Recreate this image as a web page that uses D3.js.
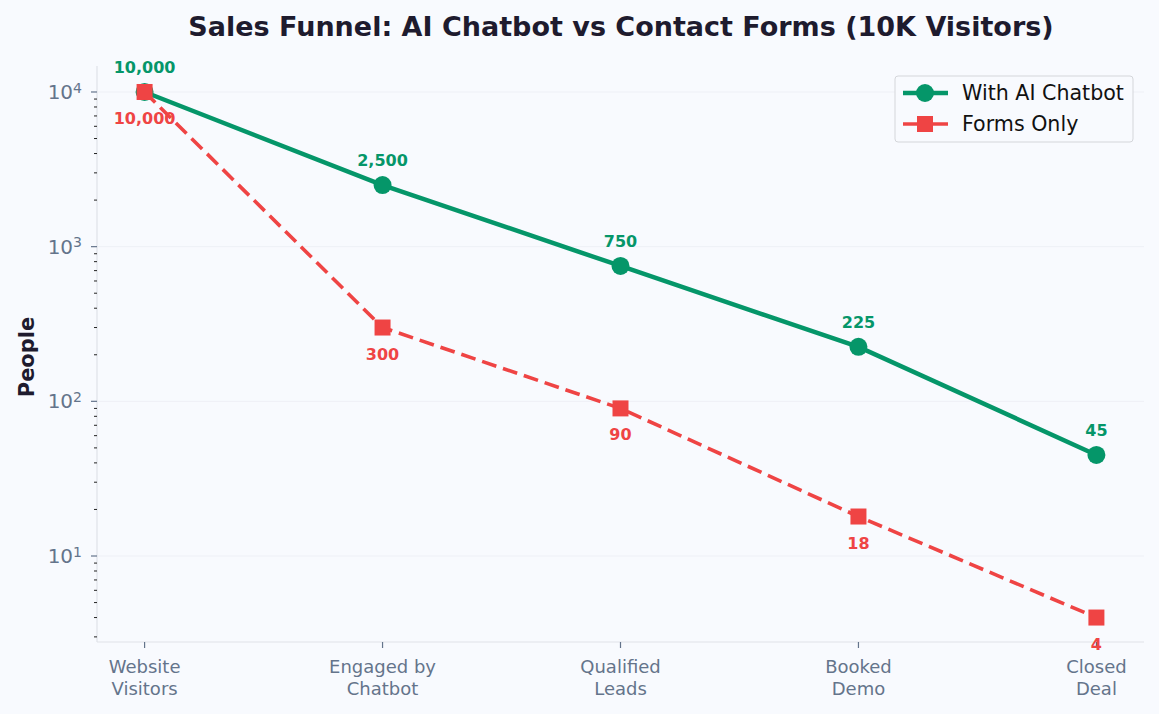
<!DOCTYPE html>
<html>
  <head>
    <meta charset="utf-8">
    <title>Sales funnel</title>
    <script src="https://cdn.jsdelivr.net/npm/d3@7"></script>
    <style>
      body { margin: 0; background: #f8fafe; font-family: "DejaVu Sans", sans-serif; }
      svg { display: block; }
    </style>
  </head>
  <body>
    <svg id="chart" width="1159" height="714"></svg>

    <script>
      // data
      stages = [["Website", "Visitors"], ["Engaged by", "Chatbot"], ["Qualified", "Leads"], ["Booked", "Demo"], ["Closed", "Deal"]];
      chatbot = [10000, 2500, 750, 225, 45];
      forms = [10000, 300, 90, 18, 4];
      seriesNames = ["With AI Chatbot", "Forms Only"];
      majorTicks = [10, 100, 1000, 10000];

      green = "#059669";
      red = "#ef4444";
      slate = "#64748b";

      svg = d3.select("#chart");

      x = d3.scaleLinear()
        .domain([-0.2, stages.length - 1 + 0.2])
        .range([97, 1144]);

      y = d3.scaleLog()
        .domain([Math.pow(10, 0.444), Math.pow(10, 4.168)])
        .range([642, 66]);

      // grid
      svg.append("g")
        .selectAll("line")
          .data(majorTicks)
        .enter().append("line")
          .attr("x1", 97)
          .attr("x2", 1144)
          .attr("y1", function(d) { return y(d); })
          .attr("y2", function(d) { return y(d); })
          .style("stroke", "#eef0f6")
          .style("stroke-width", 1);

      // spines
      svg.append("line")
        .attr("x1", 97).attr("x2", 97).attr("y1", 66).attr("y2", 642)
        .style("stroke", "#dfe2e8").style("stroke-width", 1.2);
      svg.append("line")
        .attr("x1", 97).attr("x2", 1144).attr("y1", 642).attr("y2", 642)
        .style("stroke", "#dfe2e8").style("stroke-width", 1.2);

      // minor y ticks
      minor = [];
      [1, 10, 100, 1000, 10000].forEach(function(base) {
        for (var k = 2; k <= 9; k++) {
          var v = base * k;
          if (v >= y.domain()[0] && v <= y.domain()[1]) minor.push(v);
        }
      });
      svg.append("g")
        .selectAll("line")
          .data(minor)
        .enter().append("line")
          .attr("x1", 94)
          .attr("x2", 97)
          .attr("y1", function(d) { return y(d); })
          .attr("y2", function(d) { return y(d); })
          .style("stroke", "#222")
          .style("stroke-width", 1);

      // major y ticks + labels
      yt = svg.append("g")
        .selectAll("g")
          .data(majorTicks)
        .enter().append("g")
          .attr("transform", function(d) { return "translate(0," + y(d) + ")"; });
      yt.append("line")
        .attr("x1", 91).attr("x2", 97)
        .style("stroke", slate).style("stroke-width", 1.2);
      ytext = yt.append("text")
        .attr("x", 82)
        .attr("dy", "0.35em")
        .attr("text-anchor", "end")
        .style("fill", slate)
        .style("font-size", "20px");
      ytext.append("tspan").text("10");
      ytext.append("tspan")
        .attr("dy", "-0.45em")
        .style("font-size", "14px")
        .text(function(d) { return Math.round(Math.log10(d)); });

      // x ticks + labels
      xt = svg.append("g")
        .selectAll("g")
          .data(stages)
        .enter().append("g")
          .attr("transform", function(d, i) { return "translate(" + x(i) + ",642)"; });
      xt.append("line")
        .attr("y1", 0).attr("y2", 6)
        .style("stroke", slate).style("stroke-width", 1.2);
      xt.append("text")
        .attr("text-anchor", "middle")
        .style("fill", slate)
        .style("font-size", "18px")
        .selectAll("tspan")
          .data(function(d) { return d; })
        .enter().append("tspan")
          .attr("x", 0)
          .attr("y", function(d, j) { return 31 + j * 22; })
          .text(function(d) { return d; });

      // axis label
      svg.append("text")
        .attr("transform", "translate(34,357) rotate(-90)")
        .attr("text-anchor", "middle")
        .style("font-size", "21px")
        .style("font-weight", "bold")
        .style("fill", "#1e1b2e")
        .text("People");

      // title
      svg.append("text")
        .attr("x", 621)
        .attr("y", 36)
        .attr("text-anchor", "middle")
        .style("font-size", "27px")
        .style("font-weight", "bold")
        .style("fill", "#1e1b2e")
        .text("Sales Funnel: AI Chatbot vs Contact Forms (10K Visitors)");

      line = d3.line()
        .x(function(d, i) { return x(i); })
        .y(function(d) { return y(d); });

      // chatbot series
      svg.append("path")
        .datum(chatbot)
        .attr("d", line)
        .style("fill", "none")
        .style("stroke", green)
        .style("stroke-width", 4.5);

      svg.append("g")
        .selectAll("circle")
          .data(chatbot)
        .enter().append("circle")
          .attr("cx", function(d, i) { return x(i); })
          .attr("cy", function(d) { return y(d); })
          .attr("r", 9)
          .style("fill", green);

      // forms series
      svg.append("path")
        .datum(forms)
        .attr("d", line)
        .style("fill", "none")
        .style("stroke", red)
        .style("stroke-width", 3.6)
        .style("stroke-dasharray", "15,7");

      svg.append("g")
        .selectAll("rect")
          .data(forms)
        .enter().append("rect")
          .attr("x", function(d, i) { return x(i) - 8; })
          .attr("y", function(d) { return y(d) - 8; })
          .attr("width", 16)
          .attr("height", 16)
          .style("fill", red);

      fmt = d3.format(",");

      svg.append("g")
        .selectAll("text")
          .data(chatbot)
        .enter().append("text")
          .attr("x", function(d, i) { return x(i); })
          .attr("y", function(d) { return y(d) - 19; })
          .attr("text-anchor", "middle")
          .style("font-size", "16px")
          .style("font-weight", "bold")
          .style("fill", green)
          .text(function(d) { return fmt(d); });

      svg.append("g")
        .selectAll("text")
          .data(forms)
        .enter().append("text")
          .attr("x", function(d, i) { return x(i); })
          .attr("y", function(d) { return y(d) + 32; })
          .attr("text-anchor", "middle")
          .style("font-size", "16px")
          .style("font-weight", "bold")
          .style("fill", red)
          .text(function(d) { return fmt(d); });

      // legend
      legend = svg.append("g").attr("transform", "translate(895,76)");
      legend.append("rect")
        .attr("width", 238)
        .attr("height", 66)
        .attr("rx", 3)
        .style("fill", "#f8fafe")
        .style("stroke", "#d4d6da")
        .style("stroke-width", 1);
      items = legend.selectAll(".item")
          .data(seriesNames)
        .enter().append("g")
          .classed("item", true)
          .attr("transform", function(d, i) { return "translate(0," + (17 + i * 31) + ")"; });
      items.append("line")
        .attr("x1", 8).attr("x2", 53)
        .style("stroke", function(d, i) { return i ? red : green; })
        .style("stroke-width", function(d, i) { return i ? 3.6 : 4.5; });
      items.filter(function(d, i) { return i === 0; }).append("circle")
        .attr("cx", 30).attr("r", 9).style("fill", green);
      items.filter(function(d, i) { return i === 1; }).append("rect")
        .attr("x", 22).attr("y", -8).attr("width", 16).attr("height", 16).style("fill", red);
      items.append("text")
        .attr("x", 67)
        .attr("dy", "0.35em")
        .style("font-size", "20.6px")
        .style("fill", "#111")
        .text(function(d) { return d; });
    </script>
  </body>
</html>
